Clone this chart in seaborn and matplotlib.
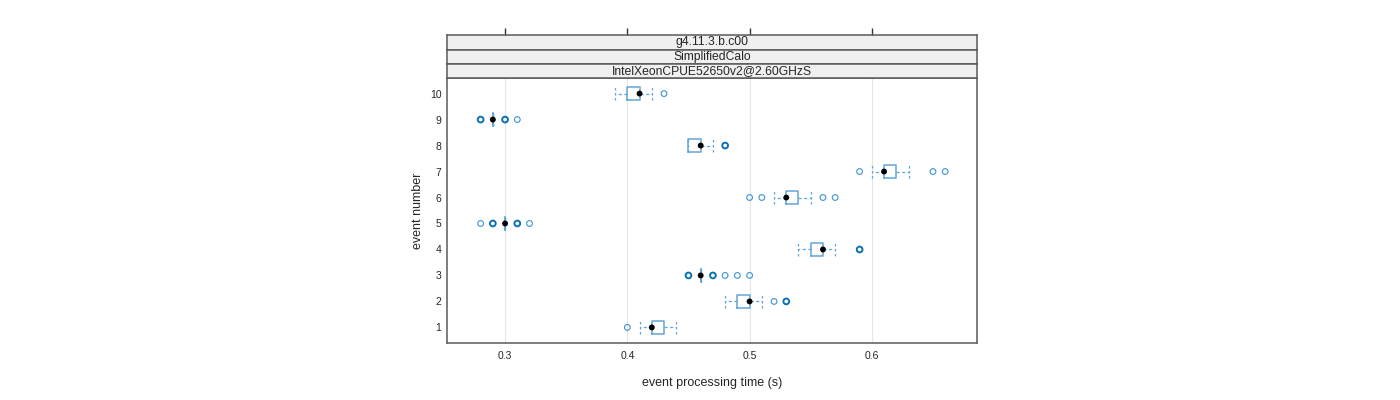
import seaborn as sns
import matplotlib.pyplot as plt
from collections import Counter

# box statistics per event (seconds)
events = [1, 2, 3, 4, 5, 6, 7, 8, 9, 10]
whis_lo = [0.41, 0.48, 0.46, 0.54, 0.30, 0.52, 0.60, 0.45, 0.29, 0.39]
q1 = [0.42, 0.49, 0.46, 0.55, 0.30, 0.53, 0.61, 0.45, 0.29, 0.40]
medians = [0.42, 0.50, 0.46, 0.56, 0.30, 0.53, 0.61, 0.46, 0.29, 0.41]
q3 = [0.43, 0.50, 0.46, 0.56, 0.30, 0.54, 0.62, 0.46, 0.29, 0.41]
whis_hi = [0.44, 0.51, 0.46, 0.57, 0.30, 0.55, 0.63, 0.47, 0.29, 0.42]
outliers = [
    [0.40],
    [0.52, 0.53, 0.53, 0.53],
    [0.45, 0.45, 0.45, 0.47, 0.47, 0.47, 0.48, 0.49, 0.50],
    [0.59, 0.59, 0.59],
    [0.28, 0.29, 0.29, 0.29, 0.31, 0.31, 0.31, 0.32],
    [0.50, 0.51, 0.56, 0.57],
    [0.59, 0.65, 0.66],
    [0.48, 0.48, 0.48],
    [0.28, 0.28, 0.28, 0.30, 0.30, 0.30, 0.31],
    [0.43],
]
strips = ["g4.11.3.b.c00", "SimplifiedCalo", "IntelXeonCPUE52650v2@2.60GHzS"]

sns.set_style("white")
plt.rcParams["font.family"] = ["Liberation Sans", "DejaVu Sans"]

box_col = "#62a6d8"
pt_thin = "#3c92d2"
pt_thick = "#0b70b6"
frame_col = "#5a5a5a"
W, H = 1400, 400

fig = plt.figure(figsize=(14, 4), dpi=100)
ax = fig.add_axes([447 / W, 1 - 343 / H, 530 / W, 265 / H])

stats = []
for i in range(len(events)):
    stats.append(dict(whislo=whis_lo[i], q1=q1[i], med=medians[i], q3=q3[i],
                      whishi=whis_hi[i], fliers=[]))

ax.bxp(stats, positions=events, orientation="horizontal", widths=0.52,
       showfliers=False, capwidths=0.52,
       boxprops=dict(color=box_col, lw=1.1),
       whiskerprops=dict(color=box_col, lw=0.9, ls=(0, (2.5, 2))),
       capprops=dict(color=box_col, lw=0.9, ls=(0, (2, 2))),
       medianprops=dict(lw=0))

# outliers: overplotted ones look thicker and darker
for ev, vals in zip(events, outliers):
    for v, n in Counter(vals).items():
        ax.scatter([v], [ev], s=17, facecolors="none",
                   edgecolors=pt_thin if n == 1 else pt_thick,
                   linewidths=0.8 if n == 1 else 1.4, zorder=3)

sns.scatterplot(x=medians, y=events, color="black", s=18, edgecolor="none",
                ax=ax, zorder=4, legend=False)

ax.set_xlim(0.2525, 0.686)
ax.set_ylim(0.4, 10.6)
ax.set_xticks([0.3, 0.4, 0.5, 0.6])
ax.set_xticklabels(["0.3", "0.4", "0.5", "0.6"])
ax.set_yticks(events)
ax.set_yticklabels([str(e) for e in events])
ax.xaxis.grid(True, color="#e6e6e6", lw=0.8)
ax.set_axisbelow(True)
ax.tick_params(axis="x", length=4, width=1, color=frame_col, labelsize=7.5, pad=2)
ax.tick_params(axis="y", length=0, labelsize=7.5, pad=4)
for s in ax.spines.values():
    s.set_color(frame_col)
    s.set_linewidth(1.1)
ax.set_xlabel("event processing time (s)", fontsize=9, labelpad=11)
ax.set_ylabel("event number", fontsize=9, labelpad=4)

# strips on top of the panel
tops = [35, 49.5, 64, 78]
for k, label in enumerate(strips):
    sax = fig.add_axes([447 / W, 1 - tops[k + 1] / H, 530 / W, (tops[k + 1] - tops[k]) / H])
    sax.set_facecolor("#f0f0f0")
    sax.set_xlim(ax.get_xlim())
    sax.set_yticks([])
    if k == 0:
        sax.set_xticks([0.3, 0.4, 0.5, 0.6])
        sax.xaxis.tick_top()
        sax.tick_params(axis="x", length=5, width=1, color="#333333", labeltop=False, labelbottom=False)
    else:
        sax.set_xticks([])
    for s in sax.spines.values():
        s.set_color(frame_col)
        s.set_linewidth(1.1)
    sax.text(0.5, 0.5, label, transform=sax.transAxes, ha="center", va="center", fontsize=8.7)

fig.savefig("out.png", dpi=100)
